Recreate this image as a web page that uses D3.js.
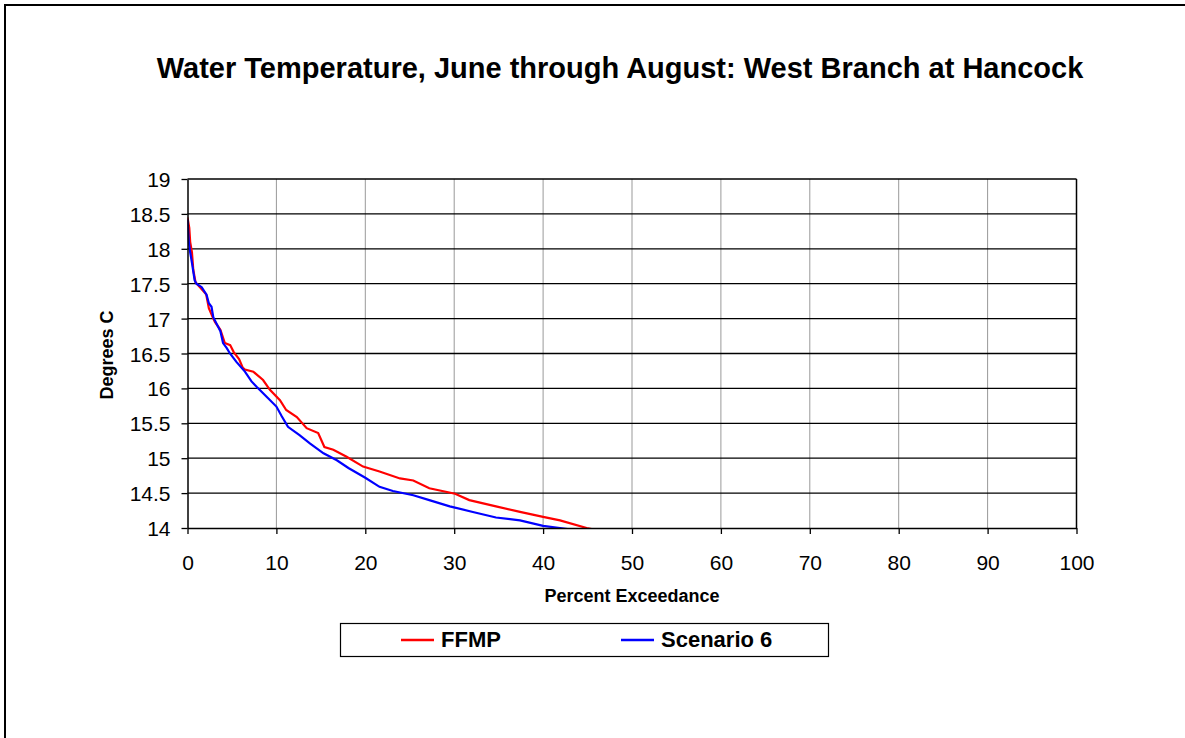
<!DOCTYPE html>
<html><head><meta charset="utf-8">
<script src="https://cdn.jsdelivr.net/npm/d3@7"></script>
<style>body{margin:0;background:#fff}svg{display:block;font-family:"Liberation Sans",Arial,sans-serif}</style>
</head><body>
<svg id="c" width="1185" height="738"></svg>
<script>
const titleText = "Water Temperature, June through August: West Branch at Hancock";
const xLabel = "Percent Exceedance";
const yLabel = "Degrees C";
const seriesNames = ["FFMP", "Scenario 6"];
const seriesColors = ["#ff0000", "#0000ff"];
const xTicks = [0,10,20,30,40,50,60,70,80,90,100];
const yTicks = [14,14.5,15,15.5,16,16.5,17,17.5,18,18.5,19];

const ffmpPct = [0,0.2,0.3,0.5,0.65,0.9,1.4,2.1,2.4,2.9,3.1,3.7,4.2,4.8,5.2,5.8,6.2,6.46,7.4,8.5,9.27,10.4,11.1,12.3,13.4,14.7,15.4,16.4,17.9,19.75,21.6,23.9,25.4,27.2,30.1,31.7,34.7,37.4,40.0,41.9,44.9,46];
const ffmpTemp = [18.45,18.3,18.1,17.95,17.7,17.52,17.45,17.35,17.15,17.0,16.95,16.84,16.65,16.62,16.52,16.42,16.3,16.27,16.24,16.12,15.98,15.83,15.69,15.59,15.43,15.36,15.16,15.12,15.02,14.88,14.81,14.71,14.68,14.57,14.49,14.40,14.31,14.23,14.16,14.11,14.0,13.97];
const scenPct = [0,0.15,0.3,0.5,0.8,1.0,1.6,2.15,2.4,2.7,2.9,3.3,3.7,4.0,4.4,4.78,5.5,6.46,7.2,7.8,8.9,10.0,10.6,11.3,12.6,13.8,15.3,16.8,18.1,20,21.6,23.1,25.4,27.2,29.5,32.1,34.7,37.4,40.0,41.9,43];
const scenTemp = [18.42,18.1,17.95,17.8,17.55,17.5,17.45,17.34,17.22,17.17,17.02,16.92,16.82,16.65,16.58,16.5,16.38,16.24,16.1,16.02,15.88,15.74,15.6,15.45,15.33,15.21,15.07,14.97,14.86,14.72,14.59,14.53,14.47,14.40,14.31,14.23,14.15,14.11,14.03,14.0,13.98];

const svg = d3.select("#c");
const L = 187.5, R = 1076.5, T = 179, B = 528;
const x = d3.scaleLinear().domain([0,100]).range([L,R]);
const y = d3.scaleLinear().domain([14,19]).range([B,T]);
const FONT = "Liberation Sans, Arial, sans-serif";

// outer border (right/bottom off-canvas)
svg.append("rect").attr("x",5).attr("y",5).attr("width",1200).attr("height",760)
  .attr("fill","none").attr("stroke","#000").attr("stroke-width",2);

svg.append("text").attr("x",620).attr("y",78).attr("text-anchor","middle")
  .attr("font-weight","bold").attr("font-size",29).text(titleText);

// vertical gridlines
svg.append("g").selectAll("line").data(xTicks.slice(1,-1)).join("line")
  .attr("x1",d=>x(d)).attr("x2",d=>x(d)).attr("y1",T).attr("y2",B)
  .attr("stroke","#999").attr("stroke-width",1);
// horizontal gridlines
svg.append("g").selectAll("line").data(yTicks.slice(1)).join("line")
  .attr("x1",L).attr("x2",R).attr("y1",d=>y(d)).attr("y2",d=>y(d))
  .attr("stroke","#000").attr("stroke-width",1.3);
// right border
svg.append("line").attr("x1",R).attr("x2",R).attr("y1",T).attr("y2",B).attr("stroke","#000").attr("stroke-width",1.5);

svg.append("clipPath").attr("id","clip").append("rect").attr("x",L).attr("y",T-3).attr("width",R-L).attr("height",B-T+3);

const line = d3.line().x(d=>x(d[0])).y(d=>y(d[1]));
const ffmp = ffmpPct.map((p,i)=>[p,ffmpTemp[i]]);
const scen = scenPct.map((p,i)=>[p,scenTemp[i]]);
const g = svg.append("g").attr("clip-path","url(#clip)");
g.append("path").datum(ffmp).attr("d",line).attr("fill","none").attr("stroke",seriesColors[0]).attr("stroke-width",2.2);
g.append("path").datum(scen).attr("d",line).attr("fill","none").attr("stroke",seriesColors[1]).attr("stroke-width",2.2);

// axes
const xAxis = d3.axisBottom(x).tickValues(xTicks).tickSize(6).tickSizeOuter(0).tickFormat(d3.format("d"));
const gx = svg.append("g").attr("transform",`translate(0,${B})`).call(xAxis);
gx.select(".domain").attr("stroke","#000").attr("stroke-width",1.5);
gx.selectAll(".tick line").attr("stroke","#000").attr("stroke-width",1.3);
gx.selectAll(".tick text").attr("font-size",21).attr("font-family",FONT).attr("fill","#000").attr("y",42).attr("dy","0");

const yAxis = d3.axisLeft(y).tickValues(yTicks).tickSize(6).tickSizeOuter(0).tickFormat(d=>String(d));
const gy = svg.append("g").attr("transform",`translate(${L},0)`).call(yAxis);
gy.select(".domain").attr("stroke","#000").attr("stroke-width",1.5);
gy.selectAll(".tick line").attr("stroke","#000").attr("stroke-width",1.3);
gy.selectAll(".tick text").attr("font-size",21).attr("font-family",FONT).attr("fill","#000").attr("x",-17).attr("dy","0.36em");

svg.append("text").attr("x",632).attr("y",602).attr("text-anchor","middle")
  .attr("font-weight","bold").attr("font-size",18).text(xLabel);
svg.append("text").attr("transform","translate(113,355) rotate(-90)").attr("text-anchor","middle")
  .attr("font-weight","bold").attr("font-size",18).text(yLabel);

// legend
svg.append("rect").attr("x",340.5).attr("y",623.5).attr("width",488).attr("height",33)
  .attr("fill","#fff").attr("stroke","#000").attr("stroke-width",1.2);
const lx = [401,621];
seriesNames.forEach((n,i)=>{
  svg.append("line").attr("x1",lx[i]).attr("x2",lx[i]+33).attr("y1",640).attr("y2",640)
    .attr("stroke",seriesColors[i]).attr("stroke-width",2.5);
  svg.append("text").attr("x",lx[i]+40).attr("y",647).attr("font-weight","bold").attr("font-size",22).text(n);
});
</script>
</body></html>
